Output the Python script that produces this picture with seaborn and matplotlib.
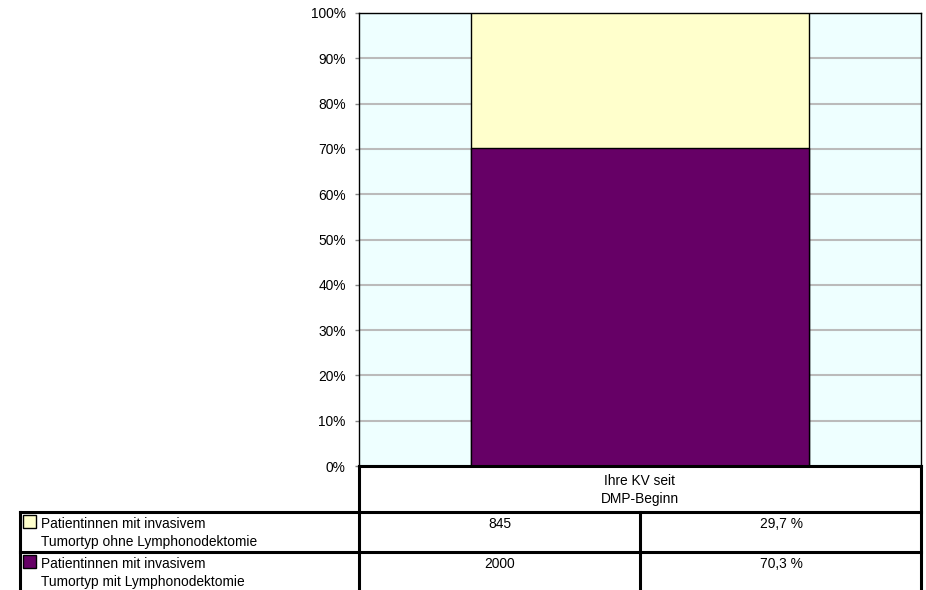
import numpy as np
import pandas as pd
import matplotlib
matplotlib.use("Agg")
import matplotlib.pyplot as plt
from matplotlib.ticker import FuncFormatter, MultipleLocator
from matplotlib.patches import Rectangle
import seaborn as sns

# Data
category = ["Ihre KV seit\nDMP-Beginn"]
series_labels = [
    "Patientinnen mit invasivem\nTumortyp ohne Lymphonodektomie",
    "Patientinnen mit invasivem\nTumortyp mit Lymphonodektomie",
]
counts = [845, 2000]
pct_labels = ["29,7 %", "70,3 %"]
series_colors = ["#FFFFCC", "#660066"]

sns.set_theme(style="white")
plt.rcParams["font.family"] = ["Liberation Sans", "DejaVu Sans"]

W, H = 926, 590
fig = plt.figure(figsize=(W / 100, H / 100), dpi=100)
fig.patch.set_facecolor("white")


def frac(x0, y0, x1, y1):
    return [x0 / W, 1 - y1 / H, (x1 - x0) / W, (y1 - y0) / H]


ax = fig.add_axes(frac(359, 13, 921, 466))
ax.set_facecolor("#EEFFFF")

total = sum(counts)
pcts = [100 * c / total for c in counts]
# stacked: top segment (ohne) sits above bottom segment (mit)
top_height = pcts[0] + pcts[1]
bottom_height = pcts[1]

df_top = pd.DataFrame({"cat": category, "val": [top_height]})
df_bot = pd.DataFrame({"cat": category, "val": [bottom_height]})
sns.barplot(data=df_top, x="cat", y="val", color=series_colors[0], width=0.6,
            edgecolor="black", linewidth=1.0, saturation=1, ax=ax, zorder=3)
sns.barplot(data=df_bot, x="cat", y="val", color=series_colors[1], width=0.6,
            edgecolor="black", linewidth=1.0, saturation=1, ax=ax, zorder=4)

fs = 9.9
ax.set_xlim(-0.5, 0.5)
ax.set_ylim(0, 100)
ax.yaxis.set_major_locator(MultipleLocator(10))
ax.yaxis.set_major_formatter(FuncFormatter(lambda v, p: f"{int(round(v))}%"))
ax.grid(axis="y", color="#BBBBBB", linewidth=1.5, zorder=0)
ax.set_axisbelow(True)
ax.set_xticks([])
ax.set_xlabel("")
ax.set_ylabel("")
ax.tick_params(axis="y", length=3, width=1, color="#888888", pad=6.5,
               labelsize=fs, labelcolor="black", left=True)
for side in ["left", "top", "right"]:
    ax.spines[side].set_visible(True)
    ax.spines[side].set_color("black")
    ax.spines[side].set_linewidth(1.0)
ax.spines["bottom"].set_visible(False)

# Data table below the chart, drawn in pixel coordinates
tab = fig.add_axes([0, 0, 1, 1], zorder=5)
tab.set_xlim(0, W)
tab.set_ylim(H, 0)
tab.axis("off")
tab.patch.set_alpha(0)

lw = 2.2
seg = dict(color="black", linewidth=lw, solid_capstyle="projecting")
tab.plot([359, 921], [466, 466], **seg)
tab.plot([359, 359], [466, 592], **seg)
tab.plot([921, 921], [466, 592], **seg)
tab.plot([20, 921], [512, 512], **seg)
tab.plot([20, 921], [552, 552], **seg)
tab.plot([20, 20], [512, 592], **seg)
tab.plot([640, 640], [512, 592], **seg)

ls = 1.4
tab.text(640, 474, category[0], ha="center", va="top", fontsize=fs,
         linespacing=ls, color="black")

row_tops = [512, 552]
for i in range(2):
    y0 = row_tops[i]
    tab.add_patch(Rectangle((23, y0 + 3), 13, 13, facecolor=series_colors[i],
                            edgecolor="black", linewidth=1.0))
    tab.text(41, y0 + 5, series_labels[i], ha="left", va="top", fontsize=fs,
             linespacing=ls, color="black")
    tab.text(500, y0 + 5, f"{counts[i]}", ha="center", va="top", fontsize=fs,
             color="black")
    tab.text(781, y0 + 5, pct_labels[i], ha="center", va="top", fontsize=fs,
             color="black")

fig.savefig("out.png", dpi=100)
